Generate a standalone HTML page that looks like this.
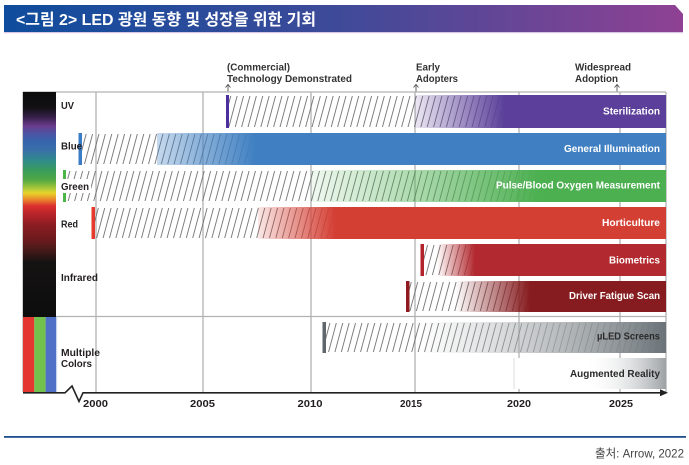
<!DOCTYPE html>
<html><head><meta charset="utf-8">
<style>
html,body{margin:0;padding:0;background:#fff;}
svg{display:block;}
text{font-family:"Liberation Sans","Noto Sans CJK KR",sans-serif;}
</style></head><body>
<svg width="689" height="465" viewBox="0 0 689 465" xmlns="http://www.w3.org/2000/svg">
<defs>
 <linearGradient id="tg" x1="0" x2="1" y1="0" y2="0">
  <stop offset="0" stop-color="#0f4c9d"/>
  <stop offset="0.5" stop-color="#3f4a99"/>
  <stop offset="1" stop-color="#8f4193"/>
 </linearGradient>
 <linearGradient id="spec" x1="0" x2="0" y1="92" y2="317" gradientUnits="userSpaceOnUse">
  <stop offset="0" stop-color="#0b0b0b"/>
  <stop offset="0.071" stop-color="#121014"/>
  <stop offset="0.116" stop-color="#3b2350"/>
  <stop offset="0.151" stop-color="#6a3c8e"/>
  <stop offset="0.187" stop-color="#4a55a4"/>
  <stop offset="0.222" stop-color="#3565ad"/>
  <stop offset="0.258" stop-color="#3a6fa8"/>
  <stop offset="0.302" stop-color="#2f8a8c"/>
  <stop offset="0.356" stop-color="#3c9e56"/>
  <stop offset="0.391" stop-color="#52a843"/>
  <stop offset="0.427" stop-color="#a6c73a"/>
  <stop offset="0.449" stop-color="#e8d52c"/>
  <stop offset="0.476" stop-color="#eb8c2c"/>
  <stop offset="0.507" stop-color="#dc2f30"/>
  <stop offset="0.542" stop-color="#b8242a"/>
  <stop offset="0.591" stop-color="#8b1d22"/>
  <stop offset="0.658" stop-color="#6b1a1d"/>
  <stop offset="0.711" stop-color="#3f1a18"/>
  <stop offset="0.756" stop-color="#151212"/>
  <stop offset="1" stop-color="#0d0d0d"/>
 </linearGradient>
 <pattern id="h" patternUnits="userSpaceOnUse" width="6.4" height="40" patternTransform="skewX(-15)">
   <rect x="0" y="0" width="0.9" height="40" fill="#6e6e6e"/>
 </pattern>
 <linearGradient id="gUV" gradientUnits="userSpaceOnUse" x1="415" x2="505" y1="0" y2="0">
  <stop offset="0" stop-color="#5b3f9a" stop-opacity="0.12"/>
  <stop offset="1" stop-color="#5b3f9a" stop-opacity="1"/>
 </linearGradient>
 <linearGradient id="gB" gradientUnits="userSpaceOnUse" x1="157" x2="255" y1="0" y2="0">
  <stop offset="0" stop-color="#4080c2" stop-opacity="0.3"/>
  <stop offset="1" stop-color="#4080c2" stop-opacity="1"/>
 </linearGradient>
 <linearGradient id="gG" gradientUnits="userSpaceOnUse" x1="311" x2="540" y1="0" y2="0">
  <stop offset="0" stop-color="#4caf50" stop-opacity="0.08"/>
  <stop offset="0.5" stop-color="#4caf50" stop-opacity="0.5"/>
  <stop offset="1" stop-color="#4caf50" stop-opacity="1"/>
 </linearGradient>
 <linearGradient id="gR" gradientUnits="userSpaceOnUse" x1="258" x2="335" y1="0" y2="0">
  <stop offset="0" stop-color="#d43f34" stop-opacity="0.12"/>
  <stop offset="1" stop-color="#d43f34" stop-opacity="1"/>
 </linearGradient>
 <linearGradient id="gBio" gradientUnits="userSpaceOnUse" x1="437" x2="475" y1="0" y2="0">
  <stop offset="0" stop-color="#b2292f" stop-opacity="0"/>
  <stop offset="1" stop-color="#b2292f" stop-opacity="1"/>
 </linearGradient>
 <linearGradient id="gDr" gradientUnits="userSpaceOnUse" x1="455" x2="530" y1="0" y2="0">
  <stop offset="0" stop-color="#861c1f" stop-opacity="0"/>
  <stop offset="1" stop-color="#861c1f" stop-opacity="1"/>
 </linearGradient>
 <linearGradient id="gMu" gradientUnits="userSpaceOnUse" x1="420" x2="666" y1="0" y2="0">
  <stop offset="0" stop-color="#b8bcbe" stop-opacity="0"/>
  <stop offset="0.55" stop-color="#a3a8ab" stop-opacity="0.75"/>
  <stop offset="1" stop-color="#6b7378" stop-opacity="1"/>
 </linearGradient>
 <linearGradient id="gAR" gradientUnits="userSpaceOnUse" x1="585" x2="666" y1="0" y2="0">
  <stop offset="0" stop-color="#ffffff" stop-opacity="0"/>
  <stop offset="1" stop-color="#9ca1a4" stop-opacity="1"/>
 </linearGradient>
</defs>

<!-- Title bar -->
<polygon points="4,5 675,5 683,14 683,32 4,32" fill="url(#tg)"/>
<rect x="4" y="32" width="679" height="1.2" fill="#d9c6e6"/>
<text x="16" y="25" font-size="16" font-weight="bold" fill="#fff" textLength="300" lengthAdjust="spacingAndGlyphs">&lt;그림 2&gt; LED 광원 동향 및 성장을 위한 기회</text>

<!-- Annotations -->
<g font-size="10" font-weight="bold" fill="#333">
 <text x="227" y="70.5" textLength="63" lengthAdjust="spacingAndGlyphs">(Commercial)</text>
 <text x="227" y="82" textLength="125" lengthAdjust="spacingAndGlyphs">Technology Demonstrated</text>
 <text x="416" y="70.5" textLength="24" lengthAdjust="spacingAndGlyphs">Early</text>
 <text x="416" y="82" textLength="42" lengthAdjust="spacingAndGlyphs">Adopters</text>
 <text x="575" y="70.5" textLength="56" lengthAdjust="spacingAndGlyphs">Widespread</text>
 <text x="575" y="82" textLength="43" lengthAdjust="spacingAndGlyphs">Adoption</text>
</g>
<g stroke="#555" stroke-width="0.9" fill="none">
 <line x1="228" y1="84.5" x2="228" y2="92"/><polyline points="225.5,87.5 228,84.5 230.5,87.5"/>
 <line x1="416" y1="84.5" x2="416" y2="92"/><polyline points="413.5,87.5 416,84.5 418.5,87.5"/>
 <line x1="617" y1="84.5" x2="617" y2="92"/><polyline points="614.5,87.5 617,84.5 619.5,87.5"/>
</g>

<!-- Frame and grid -->
<g stroke="#b2b2b2" stroke-width="1.3">
 <line x1="23" y1="92" x2="666" y2="92"/>
 <line x1="666" y1="92" x2="666" y2="392"/>
 <line x1="23" y1="316.5" x2="666" y2="316.5"/>
 <line x1="23" y1="92" x2="23" y2="392"/>
 <line x1="96" y1="92" x2="96" y2="392"/>
 <line x1="203" y1="92" x2="203" y2="392"/>
 <line x1="311" y1="92" x2="311" y2="392"/>
 <line x1="415" y1="92" x2="415" y2="392"/>
 <line x1="519" y1="92" x2="519" y2="392"/>
 <line x1="620" y1="92" x2="620" y2="392"/>
</g>

<!-- Spectrum column -->
<rect x="23" y="92" width="33" height="225" fill="url(#spec)"/>
<rect x="23" y="317" width="11.3" height="75.5" fill="#e4372f"/>
<rect x="34.3" y="317" width="11.3" height="75.5" fill="#72c04d"/>
<rect x="45.6" y="317" width="10.4" height="75.5" fill="#4f70c6"/>
<rect x="56" y="317" width="1.2" height="75.5" fill="#c8d4f0"/>

<!-- UV -->
<rect x="229" y="96" width="437" height="31" fill="url(#h)"/>
<rect x="415" y="95" width="251" height="33" fill="url(#gUV)"/>
<rect x="226" y="95" width="3" height="33" fill="#4b2fa0"/>
<!-- Blue -->
<rect x="82" y="134" width="584" height="30" fill="url(#h)"/>
<rect x="157" y="133" width="509" height="32" fill="url(#gB)"/>
<rect x="78.5" y="133" width="3.5" height="32" fill="#3b7dc4"/>
<!-- Green -->
<rect x="66" y="171" width="600" height="30" fill="url(#h)"/>
<rect x="311" y="170" width="355" height="32" fill="url(#gG)"/>
<rect x="63" y="170" width="3" height="32" fill="#4cb548"/>
<rect x="59" y="179" width="32" height="14" fill="#fff"/>
<!-- Red -->
<rect x="95" y="208" width="571" height="30" fill="url(#h)"/>
<rect x="258" y="207" width="408" height="32" fill="url(#gR)"/>
<rect x="91.5" y="207" width="3.5" height="32" fill="#e5392e"/>
<!-- Biometrics -->
<rect x="424" y="245" width="242" height="30" fill="url(#h)"/>
<rect x="437" y="244" width="229" height="32" fill="url(#gBio)"/>
<rect x="420.5" y="244" width="3.5" height="32" fill="#b3232c"/>
<!-- Driver fatigue -->
<rect x="409.5" y="282" width="256.5" height="29" fill="url(#h)"/>
<rect x="455" y="281" width="211" height="31" fill="url(#gDr)"/>
<rect x="406" y="281" width="3.5" height="31" fill="#8e1a1f"/>
<!-- µLED -->
<rect x="326" y="323" width="340" height="29" fill="url(#h)"/>
<rect x="420" y="322" width="246" height="31" fill="url(#gMu)"/>
<rect x="322.5" y="322" width="3.5" height="31" fill="#5f676c"/>
<!-- AR -->
<rect x="514" y="358" width="152" height="31" fill="#fff"/>
<line x1="514" y1="358" x2="514" y2="389" stroke="#dcdcdc" stroke-width="1"/>
<rect x="585" y="358" width="81" height="31" fill="url(#gAR)"/>

<!-- Bar labels -->
<g font-size="10" font-weight="bold" fill="#fff" text-anchor="end">
 <text x="660" y="114.5" textLength="57" lengthAdjust="spacingAndGlyphs">Sterilization</text>
 <text x="660" y="151.8" textLength="96" lengthAdjust="spacingAndGlyphs">General Illumination</text>
 <text x="660" y="188.5" textLength="164" lengthAdjust="spacingAndGlyphs">Pulse/Blood Oxygen Measurement</text>
 <text x="660" y="226.2" textLength="58" lengthAdjust="spacingAndGlyphs">Horticulture</text>
 <text x="660" y="263.5" textLength="51" lengthAdjust="spacingAndGlyphs">Biometrics</text>
 <text x="660" y="299.2" textLength="91" lengthAdjust="spacingAndGlyphs">Driver Fatigue Scan</text>
</g>
<g font-size="10" font-weight="bold" fill="#2a2a2a" text-anchor="end">
 <text x="660" y="339.5" textLength="63" lengthAdjust="spacingAndGlyphs">µLED Screens</text>
 <text x="660" y="376.8" textLength="90" lengthAdjust="spacingAndGlyphs">Augmented Reality</text>
</g>

<!-- Row labels -->
<g font-size="10" font-weight="bold" fill="#231f20">
 <text x="61" y="109.2" textLength="13" lengthAdjust="spacingAndGlyphs">UV</text>
 <text x="61" y="149.5" textLength="21" lengthAdjust="spacingAndGlyphs">Blue</text>
 <text x="61" y="190.2" textLength="28" lengthAdjust="spacingAndGlyphs">Green</text>
 <text x="61" y="227.5" textLength="17" lengthAdjust="spacingAndGlyphs">Red</text>
 <text x="61" y="281.2" textLength="37" lengthAdjust="spacingAndGlyphs">Infrared</text>
 <text x="61" y="356.2" textLength="39" lengthAdjust="spacingAndGlyphs">Multiple</text>
 <text x="61" y="366.8" textLength="31" lengthAdjust="spacingAndGlyphs">Colors</text>
</g>

<!-- Axis -->
<polyline points="23,392.8 65,392.8 72,386 79,401.5 83,392.8 662,392.8" fill="none" stroke="#222" stroke-width="1.6"/>
<polygon points="660,389.3 668,392.8 660,396.3" fill="#222"/>
<g font-size="10" font-weight="bold" fill="#231f20" text-anchor="middle">
 <text x="95.5" y="406.8" textLength="25" lengthAdjust="spacingAndGlyphs">2000</text>
 <text x="202.5" y="406.8" textLength="25" lengthAdjust="spacingAndGlyphs">2005</text>
 <text x="310" y="406.8" textLength="25" lengthAdjust="spacingAndGlyphs">2010</text>
 <text x="411" y="406.8" textLength="22" lengthAdjust="spacingAndGlyphs">2015</text>
 <text x="519" y="406.8" textLength="24" lengthAdjust="spacingAndGlyphs">2020</text>
 <text x="621" y="406.8" textLength="24" lengthAdjust="spacingAndGlyphs">2025</text>
</g>

<!-- Footer -->
<rect x="4" y="436" width="682" height="1.8" fill="#1f4e8c"/>
<text x="684" y="457.5" font-size="12" fill="#444" text-anchor="end" textLength="89" lengthAdjust="spacingAndGlyphs">출처: Arrow, 2022</text>
</svg>
</body></html>
